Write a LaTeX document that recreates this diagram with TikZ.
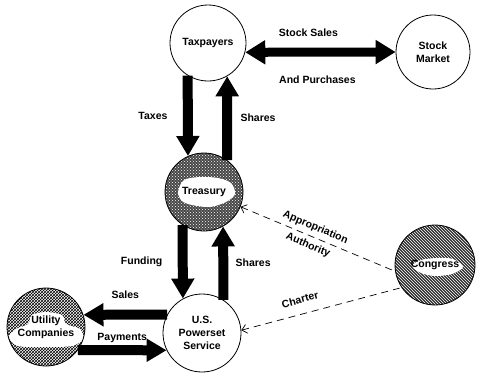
\documentclass[tikz,border=0pt]{standalone}
\usepackage{fontspec}
\setmainfont{Liberation Sans}
\usetikzlibrary{arrows.meta,patterns,backgrounds}

\begin{document}
\begin{tikzpicture}[x=1pt,y=-1pt,
    font=\fontsize{10.5}{13}\selectfont\bfseries,
    agent/.style={circle,draw,line width=0.8pt,inner sep=0pt,align=center,minimum size=#1},
    stipple/.style={preaction={fill=black!72},pattern=crosshatch dots,pattern color=white},
    stripes/.style={preaction={fill=black!82},pattern=north west lines,pattern color=white},
    mesh/.style={fill=white,postaction={pattern=crosshatch}},
    money/.style={line width=10pt,-{Triangle[length=20pt,width=22pt]}},
    trade/.style={line width=9pt,{Triangle[length=20pt,width=23pt]}-{Triangle[length=20pt,width=23pt]}},
    authority/.style={line width=0.7pt,dash pattern=on 7pt off 5pt,{Straight Barb[length=5pt,width=9pt]}-}]
  \useasboundingbox (0,0) rectangle (479,373);

  \node[agent=76pt] (taxpayers) at (208,43) {Taxpayers};
  \node[agent=74pt] (market) at (433,52) {Stock\\Market};
  \node[agent=78pt] (treasury) at (204,192) {Treasury};
  \node[agent=78pt] (powerset) at (202,333) {U.S.\\Powerset\\Service};
  \node[agent=78pt] (utility) at (46,327) {Utility\\Companies};
  \node[agent=80pt] (congress) at (435,265) {Congress};

  % textures with a white patch under the names
  \begin{scope}[on background layer]
    \fill[stipple] (treasury.center) circle[radius=39];
    \fill[white,shift={(treasury.center)}] plot[smooth cycle] coordinates
      {(-26,0) (-20,-12) (-4,-15) (14,-14) (27,-9) (31,2) (22,10) (6,15) (-12,13) (-22,9)};
    \fill[mesh] (utility.center) circle[radius=39];
    \fill[white,shift={(utility.center)}] plot[smooth cycle] coordinates
      {(-37,10) (-30,2) (-18,-3) (-14,-12) (0,-15) (16,-12) (20,-3) (34,2) (37,12) (26,19) (0,20) (-28,19)};
    \fill[stripes] (congress.center) circle[radius=40];
    \fill[white,shift={(congress.center)}] plot[smooth cycle] coordinates
      {(-23,1) (-14,-5) (2,-7) (18,-6) (28,2) (17,9) (0,11) (-14,8)};
  \end{scope}

  % money and shares
  \draw[money] (taxpayers.238) -- (treasury.114) node[midway,left=12pt] {Taxes};
  \draw[money] (treasury.54) -- (taxpayers.300) node[midway,right=5pt] {Shares};
  \draw[money] (treasury.237) -- (powerset.119) node[midway,left=12pt] {Funding};
  \draw[money] (powerset.57) -- (treasury.299) node[midway,right=4pt] {Shares};
  \draw[money] (powerset.152) -- (utility.18) node[midway,above=8pt] {Sales};
  \draw[money] (utility.-36) -- (powerset.206) node[midway,above=-1pt] {Payments};
  \draw[trade] (taxpayers.-14) -- (market.180)
    node[pos=0.42,above=8pt] {Stock Sales} node[pos=0.48,below=16pt] {And Purchases};

  % control by congress
  \draw[authority] (treasury.-22) -- (congress.189)
    node[pos=0.46,sloped,above=1pt] {Appropriation}
    node[pos=0.46,sloped,below=1pt] {Authority};
  \draw[authority] (powerset.4) -- (congress.214) node[pos=0.39,sloped,above=7pt] {Charter};
\end{tikzpicture}
\end{document}
